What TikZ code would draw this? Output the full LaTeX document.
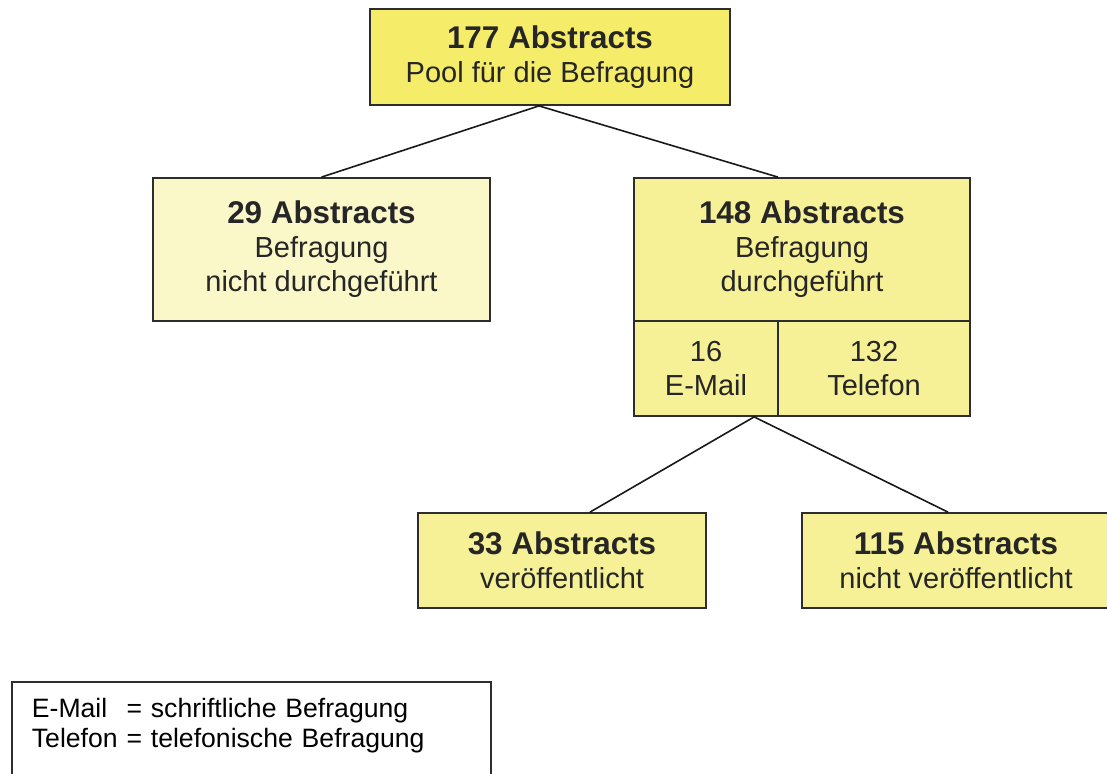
\documentclass[tikz,border=0pt]{standalone}
\usepackage{fontspec}
\setmainfont{Liberation Sans}
\usepackage{tikz}
\usetikzlibrary{calc}

\definecolor{poolyellow}{RGB}{245,237,105}
\definecolor{paleyellow}{RGB}{250,247,201}
\definecolor{midyellow}{RGB}{246,241,150}
\definecolor{boxline}{RGB}{45,45,45}

\newcommand{\headline}[1]{{\bfseries\fontsize{15.7}{17}\selectfont #1}}

\begin{document}
\begin{tikzpicture}[
    x=0.5pt, y=-0.5pt,
    box/.style={
        draw=boxline, line width=0.9pt, inner sep=0pt,
        align=center, text=black!85,
        font=\fontsize{14.5}{17}\selectfont
    },
    link/.style={draw=black!90, line width=0.8pt}
]

    \useasboundingbox (0,0) rectangle (1107,773);

    % upper level
    \node[box, fill=poolyellow, minimum width=180pt, minimum height=48pt] (top) at (550,57)
        {\headline{177 Abstracts}\\ Pool für die Befragung};

    \node[box, fill=paleyellow, minimum width=168.5pt, minimum height=71.5pt] (nd) at (321.5,249.5)
        {\headline{29 Abstracts}\\ Befragung\\ nicht durchgeführt};

    \node[box, fill=midyellow, minimum width=168pt, minimum height=71.5pt] (d) at (802,249.5)
        {\headline{148 Abstracts}\\ Befragung\\ durchgeführt};

    \node[box, fill=midyellow, minimum width=72pt, minimum height=47.5pt] (mail) at (706,368.5)
        {16\\ E-Mail};
    \node[box, fill=midyellow, minimum width=96pt, minimum height=47.5pt] (tel) at (874,368.5)
        {132\\ Telefon};

    % lower level
    \node[box, fill=midyellow, minimum width=144pt, minimum height=47.5pt] (pub) at (562,560.5)
        {\headline{33 Abstracts}\\ veröffentlicht};
    \node[box, fill=midyellow, minimum width=154pt, minimum height=47.5pt] (unpub) at (956,560.5)
        {\headline{115 Abstracts}\\ nicht veröffentlicht};

    \draw[link] (nd.north) -- ([xshift=-5.5pt]top.south) -- ([xshift=-12pt]d.north);
    \draw[link] ([xshift=14pt]pub.north) -- ([xshift=-11.5pt]tel.south west) -- ([xshift=-4pt]unpub.north);

    % legend
    \node[draw=boxline, line width=0.9pt, anchor=north west, inner xsep=10pt, inner ysep=7.5pt,
          text width=219.5pt, align=left, text depth=40pt,
          font=\fontsize{13.3}{14.8}\selectfont] (legend) at (11,681)
        {\begin{tabular}{@{}l@{ }l@{}}
            E-Mail & = schriftliche Befragung\\
            Telefon & = telefonische Befragung
         \end{tabular}};

\end{tikzpicture}
\end{document}
